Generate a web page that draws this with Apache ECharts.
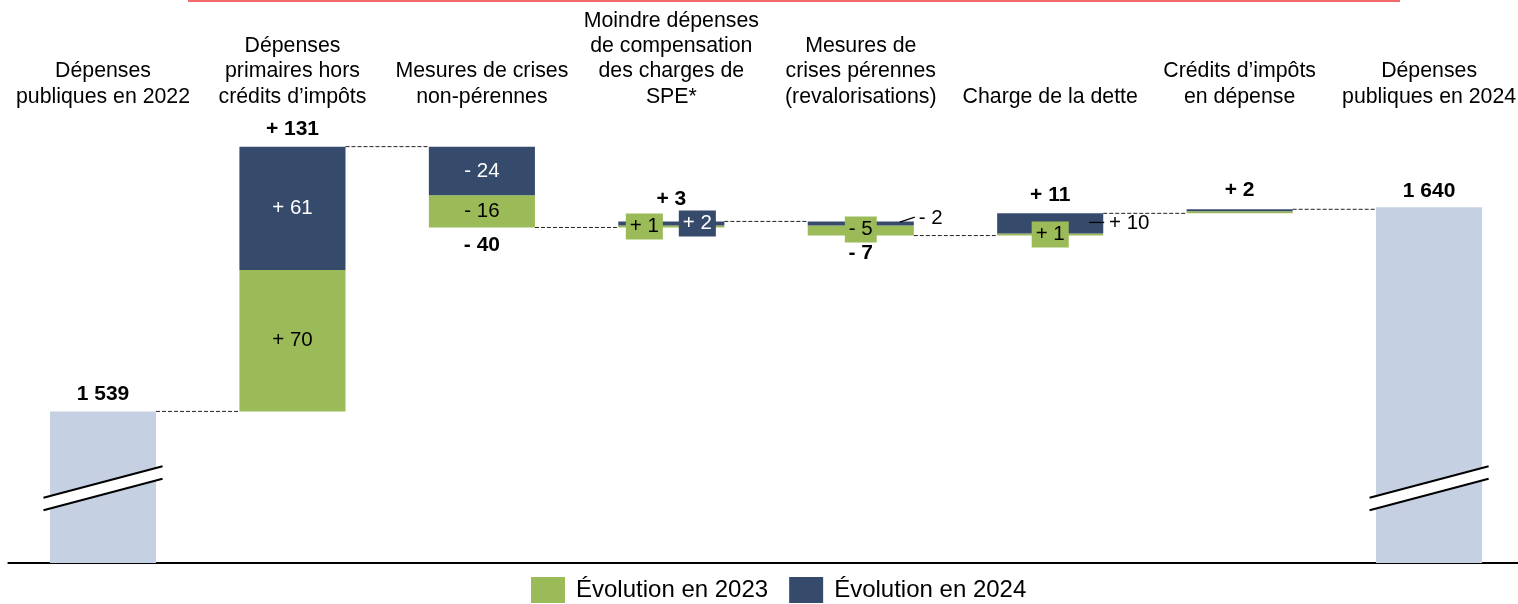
<!DOCTYPE html>
<html>
<head>
<meta charset="utf-8">
<script src="https://cdn.jsdelivr.net/npm/echarts@6/dist/echarts.min.js"></script>
<style>
html,body{margin:0;padding:0;background:#fff;}
#chart{width:1518px;height:604px;}
</style>
</head>
<body>
<div id="chart"></div>
<script>
// ---------- DATA ----------
const categories = [
  "Dépenses\npubliques en 2022",
  "Dépenses\nprimaires hors\ncrédits d’impôts",
  "Mesures de crises\nnon-pérennes",
  "Moindre dépenses\nde compensation\ndes charges de\nSPE*",
  "Mesures de\ncrises pérennes\n(revalorisations)",
  "Charge de la dette",
  "Crédits d’impôts\nen dépense",
  "Dépenses\npubliques en 2024"
];
const start2022 = 1539;
const end2024 = 1640;
const evol2023 = [70, -16, 1, -5, 1, 1];   // steps (categories 1..6)
const evol2024 = [61, -24, 2, -2, 10, 1];
const legendNames = ["Évolution en 2023", "Évolution en 2024"];

// ---------- STYLE ----------
const FONT = "'Liberation Sans', Arial, sans-serif";
const C_GREEN = "#9BBB59", C_NAVY = "#364B6B", C_TOTAL = "#C5D0E2";
const BAR_RATIO = 0.56;
const BREAK_VALUE = 1501;

// ---------- DERIVED ----------
const n = categories.length;
const levels = [start2022];
const baseVals = [start2022];
const greenVals = [0], navyVals = [0];
const totalVals = [start2022];
for (let k = 0; k < evol2023.length; k++) {
  const before = levels[levels.length - 1];
  const step = evol2023[k] + evol2024[k];
  const after = before + step;
  levels.push(after);
  baseVals.push(Math.min(before, after));
  greenVals.push(Math.abs(evol2023[k]));
  navyVals.push(Math.abs(evol2024[k]));
  totalVals.push(step);
}
levels.push(end2024);
baseVals.push(end2024);
greenVals.push(0); navyVals.push(0);
totalVals.push(end2024);

const fmtSigned = v => (v < 0 ? "- " : "+ ") + Math.abs(v);
const fmtThousands = v => String(v).replace(/\B(?=(\d{3})+(?!\d))/g, " ");

const segLabelCfg = {
  1: { g: { offset: [0, 0] }, n: { offset: [0, 0] } },
  2: { g: { offset: [0, 0] }, n: { offset: [0, 0] } },
  3: { g: { offset: [-27, 0], box: true }, n: { offset: [26, 0], box: true } },
  4: { g: { offset: [0, -1], box: true }, n: { offset: [70, -5], outside: true } },
  5: { g: { offset: [0, 0], box: true }, n: { offset: [79, 0], outside: true } }
};
const totalLabelDist = [6, 6, 6.5, 10.5, 6.5, 7, 8, 5];

const labelBase = { fontFamily: FONT, fontSize: 20.5 };

function segItem(i, val, which) {
  const cfg = segLabelCfg[i] && segLabelCfg[i][which];
  const signed = which === "g" ? evol2023[i - 1] : evol2024[i - 1];
  if (!cfg) return { value: val, label: { show: false } };
  const color = which === "g" ? C_GREEN : C_NAVY;
  const lab = Object.assign({}, labelBase, {
    show: true, position: "inside", offset: cfg.offset,
    formatter: fmtSigned(signed),
    color: which === "n" && !cfg.outside ? "#fff" : "#000"
  });
  if (cfg.box) { lab.backgroundColor = color; lab.padding = [3, 4, 2, 4]; }
  return { value: val, label: lab };
}

const baseData = baseVals.map((v, i) => ({
  value: v,
  itemStyle: { color: (i === 0 || i === n - 1) ? C_TOTAL : "rgba(0,0,0,0)" }
}));
const greenData = greenVals.map((v, i) => segItem(i, v, "g"));
const navyData = navyVals.map((v, i) => segItem(i, v, "n"));

const totalLabelData = totalVals.map((t, i) => {
  const isEnd = (i === 0 || i === n - 1);
  const neg = !isEnd && t < 0;
  const y = neg ? baseVals[i] : baseVals[i] + greenVals[i] + navyVals[i];
  return {
    value: [i, y],
    label: Object.assign({}, labelBase, {
      show: true, fontWeight: "bold", color: "#000", fontSize: 21,
      position: neg ? "bottom" : "top", distance: totalLabelDist[i],
      formatter: isEnd ? fmtThousands(t) : fmtSigned(t)
    })
  };
});

const chart = echarts.init(document.getElementById("chart"), null, { renderer: "canvas" });

function renderDecor(params, api) {
  const i = params.dataIndex;
  const band = api.size([1, 0])[0];
  const hw = band * BAR_RATIO / 2;
  const c = api.coord([i, levels[i]]);
  const children = [];
  if (i < n - 1) {
    const c2 = api.coord([i + 1, levels[i]]);
    children.push({
      type: "line",
      shape: { x1: c[0] + hw, y1: c[1], x2: c2[0] - hw, y2: c[1] },
      style: { stroke: "#222", lineWidth: 1, lineDash: [4, 2] }
    });
  }
  if (i === 0 || i === n - 1) {
    const b = api.coord([i, BREAK_VALUE]);
    const L = hw + 6.5, s = 0.2644, g = 6.2;
    const x1 = b[0] - L, x2 = b[0] + L;
    const u1 = b[1] - g + L * s, u2 = b[1] - g - L * s;
    const l1 = b[1] + g + L * s, l2 = b[1] + g - L * s;
    children.push({
      type: "polygon",
      shape: { points: [[x1, u1], [x2, u2], [x2, l2], [x1, l1]] },
      style: { fill: "#fff" }
    });
    children.push({ type: "line", shape: { x1: x1, y1: u1, x2: x2, y2: u2 }, style: { stroke: "#000", lineWidth: 2 } });
    children.push({ type: "line", shape: { x1: x1, y1: l1, x2: x2, y2: l2 }, style: { stroke: "#000", lineWidth: 2 } });
  }
  if (segLabelCfg[i] && segLabelCfg[i].n && segLabelCfg[i].n.outside) {
    const mid = api.coord([i, baseVals[i] + greenVals[i] + navyVals[i] / 2]);
    const dy = i === 4 ? [-1.4, -6.4] : [-1, -1];
    children.push({
      type: "line",
      shape: { x1: mid[0] + 39, y1: mid[1] + dy[0], x2: mid[0] + 54, y2: mid[1] + dy[1] },
      style: { stroke: "#000", lineWidth: 1.3 }
    });
  }
  return { type: "group", children: children };
}

const option = {
  backgroundColor: "#fff",
  animation: false,
  textStyle: { fontFamily: FONT },
  graphic: [{
    type: "rect", left: 188, top: 0,
    shape: { width: 1212, height: 2 },
    style: { fill: "#F26A6A" }
  }],
  legend: {
    data: legendNames,
    left: 531, top: 577, padding: 0,
    itemWidth: 34, itemHeight: 26, itemGap: 21,
    icon: "rect",
    textStyle: { fontFamily: FONT, fontSize: 24, color: "#000", padding: [0, 0, 0, 6] }
  },
  grid: { left: 8.3, width: 1515.5, top: 86, bottom: 41, containLabel: false, outerBoundsMode: "none" },
  xAxis: [
    {
      type: "category", data: categories, position: "bottom",
      axisLine: { show: true, lineStyle: { color: "#000", width: 2 } },
      axisTick: { show: false }, axisLabel: { show: false }, splitLine: { show: false }
    },
    {
      type: "category", data: categories, position: "top", offset: -30,
      axisLine: { show: false }, axisTick: { show: false }, splitLine: { show: false },
      axisLabel: {
        show: true, interval: 0, margin: 6.5, color: "#000",
        fontFamily: FONT, fontSize: 21.3, lineHeight: 25.3, align: "center"
      }
    }
  ],
  yAxis: { type: "value", min: 1464, max: 1700, show: false, splitLine: { show: false } },
  series: [
    {
      name: "base", type: "bar", stack: "w", barWidth: (BAR_RATIO * 100) + "%",
      data: baseData, silent: true, label: { show: false }, clip: true
    },
    {
      name: legendNames[0], type: "bar", stack: "w", barWidth: (BAR_RATIO * 100) + "%",
      itemStyle: { color: C_GREEN }, data: greenData, clip: true
    },
    {
      name: legendNames[1], type: "bar", stack: "w", barWidth: (BAR_RATIO * 100) + "%",
      itemStyle: { color: C_NAVY }, data: navyData, clip: true
    },
    {
      name: "totals", type: "scatter", symbol: "circle", symbolSize: 2,
      itemStyle: { color: "rgba(0,0,0,0)", opacity: 1 }, data: totalLabelData, silent: true, z: 5,
      clip: false
    },
    {
      name: "decor", type: "custom", renderItem: renderDecor,
      data: categories.map((c, i) => [i, levels[i]]), encode: { x: 0, y: 1 },
      silent: true, z: 4, clip: false
    }
  ]
};
chart.setOption(option);
</script>
</body>
</html>
